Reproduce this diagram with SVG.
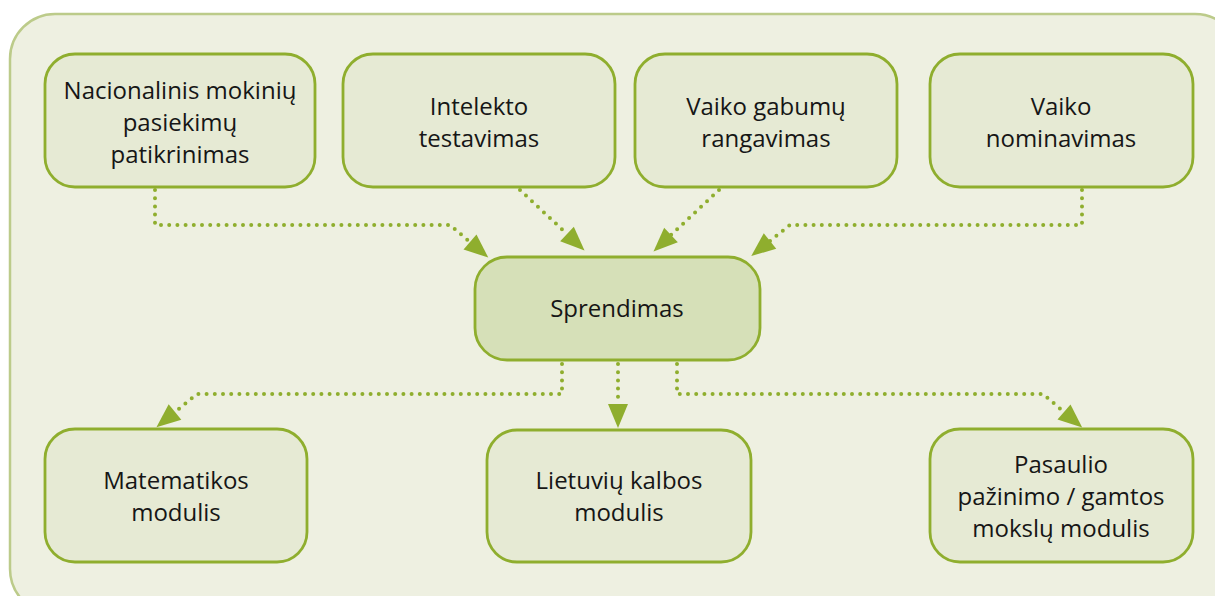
<svg xmlns="http://www.w3.org/2000/svg" width="1215" height="596" viewBox="0 0 1215 596">
<style>
.node{fill:#e6ead4;stroke:#8fae2e;stroke-width:2.8}
.main{fill:#d6e0b8}
.t{font-family:"Open Sans","Liberation Sans",sans-serif;font-size:24px;fill:#161616;text-anchor:middle}
.c{fill:none;stroke:#8fae2e;stroke-width:4;stroke-dasharray:0 8.2;stroke-linecap:round;stroke-linejoin:round}
</style>
<defs>
<marker id="ah" markerUnits="userSpaceOnUse" orient="auto" refX="0" refY="0" markerWidth="30" markerHeight="30" overflow="visible">
<path d="M0,-10 L24,0 L0,10 z" fill="#8fae2e"/>
</marker>
</defs>
<rect x="10" y="14" width="1230" height="600" rx="45" fill="#eef0e1" stroke="#bccb8a" stroke-width="2.5"/>
<g id="connectors">
<path class="c" d="M155,190 L155,225 L450,225 L470,242" marker-end="url(#ah)"/>
<path class="c" d="M520,190 L567,234" marker-end="url(#ah)"/>
<path class="c" d="M719,190 L671,235" marker-end="url(#ah)"/>
<path class="c" d="M1082,190 L1082,225 L790,225 L770,241" marker-end="url(#ah)"/>
<path class="c" d="M562,364 L562,394 L197,394 L175,412" marker-end="url(#ah)"/>
<path class="c" d="M618,364 L618,404" marker-end="url(#ah)"/>
<path class="c" d="M677,364 L677,394 L1043,394 L1064,412" marker-end="url(#ah)"/>
</g>
<g id="n1"><rect class="node" x="45" y="54" width="270" height="133" rx="30"/>
<text class="t" x="180" y="99">Nacionalinis mokinių</text><text class="t" x="180" y="131">pasiekimų</text><text class="t" x="180" y="163">patikrinimas</text></g>
<g id="n2"><rect class="node" x="343" y="54" width="272" height="133" rx="30"/>
<text class="t" x="479" y="115">Intelekto</text><text class="t" x="479" y="147">testavimas</text></g>
<g id="n3"><rect class="node" x="635" y="54" width="262" height="133" rx="30"/>
<text class="t" x="766" y="115">Vaiko gabumų</text><text class="t" x="766" y="147">rangavimas</text></g>
<g id="n4"><rect class="node" x="930" y="54" width="263" height="133" rx="30"/>
<text class="t" x="1061" y="115">Vaiko</text><text class="t" x="1061" y="147">nominavimas</text></g>
<g id="n5"><rect class="node main" x="475" y="257" width="285" height="103" rx="32"/>
<text class="t" x="617" y="317">Sprendimas</text></g>
<g id="n6"><rect class="node" x="45" y="429" width="262" height="133" rx="30"/>
<text class="t" x="176" y="489">Matematikos</text><text class="t" x="176" y="521">modulis</text></g>
<g id="n7"><rect class="node" x="487" y="430" width="264" height="132" rx="30"/>
<text class="t" x="619" y="489">Lietuvių kalbos</text><text class="t" x="619" y="521">modulis</text></g>
<g id="n8"><rect class="node" x="930" y="429" width="263" height="133" rx="30"/>
<text class="t" x="1061" y="473">Pasaulio</text><text class="t" x="1061" y="505">pažinimo / gamtos</text><text class="t" x="1061" y="537">mokslų modulis</text></g>
</svg>
